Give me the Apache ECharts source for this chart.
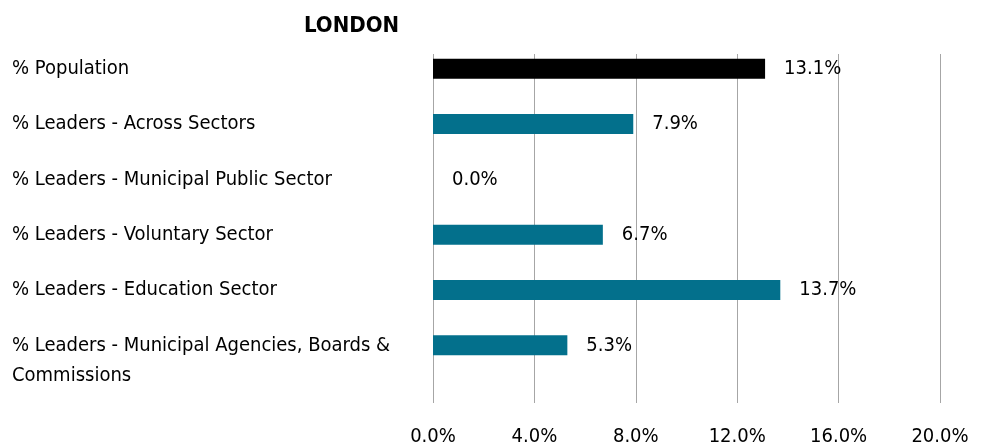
<!DOCTYPE html>
<html>
<head>
<meta charset="utf-8">
<script src="https://cdn.jsdelivr.net/npm/echarts@6/dist/echarts.min.js"></script>
<style>html,body{margin:0;padding:0;background:#fff}#chart{width:986px;height:448px}</style>
</head>
<body>
<div id="chart"></div>
<script>
var titleText = 'LONDON';
var categories = [
  '% Population',
  '% Leaders - Across Sectors',
  '% Leaders - Municipal Public Sector',
  '% Leaders - Voluntary Sector',
  '% Leaders - Education Sector',
  '% Leaders - Municipal Agencies, Boards &\nCommissions'
];
var values = [13.1, 7.9, 0.0, 6.7, 13.7, 5.3];
var barColors = ['#000000', '#03708C', '#03708C', '#03708C', '#03708C', '#03708C'];
var axisMin = 0, axisMax = 20, axisStep = 4;

var FONT = "'Liberation Sans Narrow', 'DejaVu Sans Condensed', sans-serif";
var chart = echarts.init(document.getElementById('chart'), null, {renderer: 'canvas'});

var yLabels = categories.map(function (c) {
  return c.indexOf('\n') >= 0 ? '\n' + c : c;
});

chart.setOption({
  animation: false,
  backgroundColor: '#ffffff',
  title: {
    text: titleText,
    left: 299, top: 10,
    textStyle: {fontFamily: FONT, fontSize: 22, fontWeight: 'bold', color: '#000'}
  },
  grid: [
    {left: 433, right: 46, top: 54, bottom: 45, containLabel: false},
    {left: 433, right: 46, top: 41, bottom: 75, containLabel: false}
  ],
  xAxis: [
    {
      gridIndex: 0, type: 'value', min: axisMin, max: axisMax, interval: axisStep,
      axisLine: {show: false}, axisTick: {show: false},
      splitLine: {show: true, lineStyle: {color: '#A6A6A6', width: 1}},
      axisLabel: {
        margin: 24, fontFamily: FONT, fontSize: 20, color: '#000',
        formatter: function (v) { return v.toFixed(1) + '%'; }
      }
    },
    {
      gridIndex: 1, type: 'value', min: axisMin, max: axisMax, show: false,
      splitLine: {show: false}
    }
  ],
  yAxis: [
    {gridIndex: 0, type: 'value', show: false, splitLine: {show: false}},
    {
      gridIndex: 1, type: 'category', inverse: true, data: yLabels,
      axisLine: {show: false}, axisTick: {show: false}, splitLine: {show: false},
      axisLabel: {
        interval: 0, hideOverlap: false,
        align: 'left', margin: 421, fontFamily: FONT, fontSize: 20, color: '#000',
        lineHeight: 30
      }
    }
  ],
  series: [{
    type: 'bar', xAxisIndex: 1, yAxisIndex: 1,
    barWidth: 20,
    data: values.map(function (v, i) { return {value: v, itemStyle: {color: barColors[i]}}; }),
    label: {
      show: true, position: 'right', distance: 19,
      fontFamily: FONT, fontSize: 20, color: '#000',
      formatter: function (p) { return p.value.toFixed(1) + '%'; }
    }
  }]
});
</script>
</body>
</html>
